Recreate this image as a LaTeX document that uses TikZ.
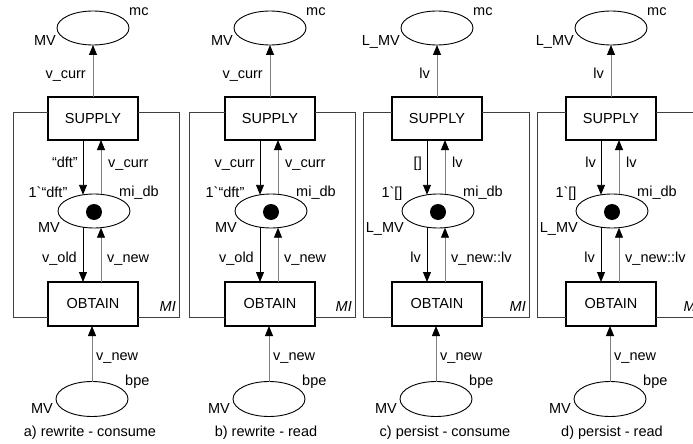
\documentclass[tikz,border=0pt]{standalone}
\usepackage{fontspec}
\setmainfont{Liberation Sans}[Ligatures=TeXOff]
\usetikzlibrary{arrows.meta,calc,shapes.geometric}
\newcommand\labfont{\fontsize{14.5}{17}\selectfont}
\begin{document}
\begin{tikzpicture}[x=1pt,y=-1pt,
  trans/.style={draw,line width=1.2pt,minimum width=90pt,minimum height=43pt,inner sep=0pt,outer sep=0pt,font=\labfont},
  place/.style={ellipse,draw,line width=0.9pt,minimum width=72pt,minimum height=34pt,inner sep=0pt,outer sep=0pt},
  token/.style={circle,fill=black,minimum size=16pt,inner sep=0pt},
  lab/.style={font=\labfont,inner sep=0pt,text height=10.5pt,text depth=3pt},
  arcdn/.style={line width=0.9pt,black,-{Triangle[length=10pt,width=8pt]}},
  arcup/.style={line width=0.9pt,black!50,-{Triangle[length=10pt,width=8pt,color=black]}},
  frameline/.style={line width=0.8pt,black!75}]
\useasboundingbox (0,0) rectangle (693,444);
\foreach \p/\cx/\fl/\capx/\ty/\at/\di/\ui/\mk/\dl/\ul/\cap in {
  a/93/13/90/MV/v\_curr/“dft”/v\_curr/1`“dft”/v\_old/v\_new/{a) rewrite - consume},
  b/270/189/266/MV/v\_curr/v\_curr/v\_curr/1`“dft”/v\_old/v\_new/{b) rewrite - read},
  c/437/363/445/L\_MV/lv/{[]}/lv/{1`[]}/lv/v\_new::lv/{c) persist - consume},
  d/611/537/612/L\_MV/lv/lv/lv/{1`[]}/lv/v\_new::lv/{d) persist - read}} {
  % places and transitions
  \node[place] (\p-mc) at (\cx,28) {};
  \node[trans] (\p-sup) at (\cx,118.5) {SUPPLY};
  \node[place] (\p-db) at (\cx+1,211) {};
  \node[token] (\p-tok) at (\cx+1,212) {};
  \node[trans,minimum height=44pt] (\p-obt) at (\cx,304) {OBTAIN};
  \node[place,minimum height=35pt] (\p-bpe) at (\cx-1,399) {};
  % frame of the module
  \draw[frameline] (\p-sup.west |- 0,112) -| (\fl,317) -- (\p-obt.west |- 0,317);
  \draw[frameline] (\p-sup.east |- 0,112) -| (\fl+166,317) -- (\p-obt.east |- 0,317);
  % arcs
  \draw[arcup] (\p-sup.north) -- (\p-mc.south);
  \draw[arcdn] ($(\p-sup.south)+(-10,0)$) -- ($(\p-db.center)+(-11,-16.2)$);
  \draw[arcup] ($(\p-db.center)+(7,-16.7)$) -- ($(\p-sup.south)+(8,0)$);
  \draw[arcdn] ($(\p-db.center)+(-11,16.2)$) -- ($(\p-obt.north)+(-10,0)$);
  \draw[arcup] ($(\p-obt.north)+(8,0)$) -- ($(\p-db.center)+(7,16.7)$);
  \draw[arcup] (\p-bpe.north) -- (\p-bpe.north |- \p-obt.south);
  % labels
  \node[lab,anchor=east] (\p-tymc) at (\cx-37,42) {\ty};
  \node[lab,anchor=west] (\p-nmc) at (\cx+36,12) {mc};
  \node[lab,anchor=east] (\p-lat) at (\cx-7,75) {\at};
  \node[lab,anchor=east] (\p-ldi) at (\cx-15,164) {\di};
  \node[lab,anchor=west] (\p-lui) at (\cx+15,164) {\ui};
  \node[lab] (\p-mark) at (\cx-45,194) {\mk};
  \node[lab,anchor=west] (\p-ndb) at (\cx+26,193) {mi\_db};
  \node[lab,anchor=east] (\p-tydb) at (\cx-33,229) {\ty};
  \node[lab,anchor=east] (\p-ldl) at (\cx-16,259) {\dl};
  \node[lab,anchor=west] (\p-lul) at (\cx+14,259) {\ul};
  \node[lab,anchor=east] (\p-mi) at (\fl+163,308) {\itshape MI};
  \node[lab,anchor=west] (\p-lbp) at (\cx+3,357) {v\_new};
  \node[lab,anchor=west] (\p-nbp) at (\cx+32,382) {bpe};
  \node[lab,anchor=east] (\p-tybp) at (\cx-40,410) {MV};
  \node[lab] (\p-cap) at (\capx,433) {\cap};
}
\end{tikzpicture}
\end{document}
